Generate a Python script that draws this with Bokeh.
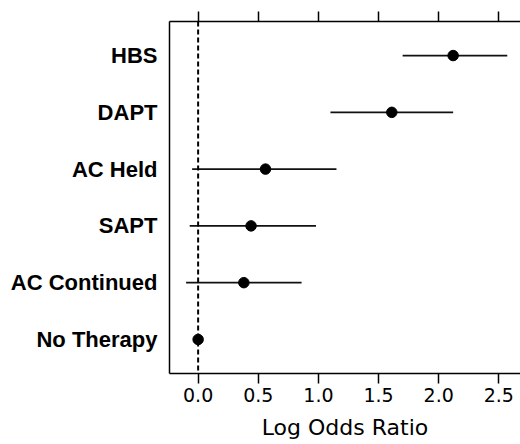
from bokeh.plotting import figure
from bokeh.models import Range1d, LinearAxis, FixedTicker, NumeralTickFormatter, Span, ColumnDataSource
from bokeh.embed import file_html
from bokeh.resources import INLINE

# Data (top to bottom)
categories = ["HBS", "DAPT", "AC Held", "SAPT", "AC Continued", "No Therapy"]
estimate = [2.12, 1.61, 0.56, 0.44, 0.38, 0.0]
lower = [1.70, 1.10, -0.05, -0.07, -0.10, 0.0]
upper = [2.57, 2.12, 1.15, 0.98, 0.86, 0.0]
x_ticks = [0.0, 0.5, 1.0, 1.5, 2.0, 2.5]

n = len(categories)
ypos = [n - i for i in range(n)]

src = ColumnDataSource(dict(y=ypos, est=estimate, lo=lower, hi=upper, cat=categories))

p = figure(width=520, height=444, output_backend="svg", toolbar_location=None,
           x_range=Range1d(-0.238, 2.68), y_range=Range1d(0.4, n + 0.6),
           x_axis_location=None, y_axis_location=None,
           min_border_left=169, min_border_right=0, min_border_top=21, min_border_bottom=71)
p.outline_line_color = None
p.xgrid.visible = False
p.ygrid.visible = False
p.background_fill_color = "white"
p.border_fill_color = "white"

# zero reference line
p.add_layout(Span(location=0, dimension="height", line_color="black", line_width=2, line_dash="5 3"))

p.segment(x0="lo", x1="hi", y0="y", y1="y", source=src, line_color="#111111", line_width=1.8)
p.scatter(x="est", y="y", source=src, size=10.5, color="black")

tick_font = "DejaVu Sans"

# bottom axis
xb = LinearAxis(ticker=FixedTicker(ticks=x_ticks), formatter=NumeralTickFormatter(format="0.0"))
xb.axis_label = "Log Odds Ratio"
xb.axis_label_text_font = tick_font
xb.axis_label_text_font_style = "normal"
xb.axis_label_text_font_size = "22px"
xb.axis_label_text_color = "black"
xb.axis_label_text_baseline = "hanging"
xb.axis_label_standoff = 10
xb.major_label_text_font = tick_font
xb.major_label_text_font_size = "19px"
xb.major_label_text_color = "black"
xb.major_label_standoff = 4
xb.major_tick_out = 10
xb.major_tick_in = 0
xb.minor_tick_line_color = None
xb.axis_line_color = "black"
xb.axis_line_width = 1.5
xb.major_tick_line_color = "black"
xb.major_tick_line_width = 1.5
p.add_layout(xb, "below")

# top axis (ticks only, labels not drawn)
xt = LinearAxis(ticker=FixedTicker(ticks=x_ticks))
xt.major_label_text_color = None
xt.major_label_text_font_size = "1px"
xt.major_label_standoff = 0
xt.major_tick_out = 10
xt.major_tick_in = 0
xt.minor_tick_line_color = None
xt.axis_line_color = "black"
xt.axis_line_width = 1.5
xt.major_tick_line_color = "black"
xt.major_tick_line_width = 1.5
p.add_layout(xt, "above")

# left axis with category labels
yl = LinearAxis(ticker=FixedTicker(ticks=ypos))
yl.major_label_overrides = {y: c for y, c in zip(ypos, categories)}
yl.major_label_text_font = "Liberation Sans"
yl.major_label_text_font_style = "bold"
yl.major_label_text_font_size = "22px"
yl.major_label_text_color = "black"
yl.major_label_standoff = 12
yl.major_tick_line_color = None
yl.major_tick_out = 0
yl.major_tick_in = 0
yl.minor_tick_line_color = None
yl.axis_line_color = "black"
yl.axis_line_width = 1.5
p.add_layout(yl, "left")

open("out.html", "w").write(file_html(p, INLINE))
